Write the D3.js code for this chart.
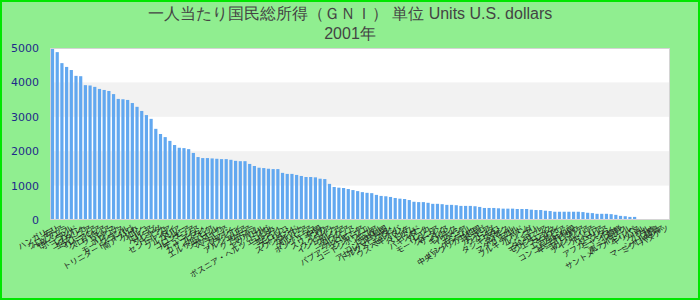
<!DOCTYPE html>
<html>
<head>
<meta charset="utf-8">
<script src="https://cdn.jsdelivr.net/npm/d3@7"></script>
<style>
  body { margin: 0; background: #90ee90; }
  svg { display: block; }
</style>
</head>
<body>
<div id="chart"></div>
<script>
// Country names (Japanese) in the order shown
const countries = [
  'ハンガリー', 'チリ', 'クロアチア', 'ベネズエラ', 'セーシェル', 'ポーランド', 'レバノン', 'コスタリカ',
  'エストニア', 'マレーシア', 'リトアニア', 'スロバキア', 'ラトビア', 'パナマ', 'ボツワナ', 'モーリシャス',
  'ブラジル', 'トリニダード・トバゴ', '南アフリカ', 'ガボン', 'トルコ', 'ロシア', 'ベリーズ', 'グレナダ',
  'ドミニカ', 'セントルシア', 'タイ', 'ブルガリア', 'ペルー', 'コロンビア', 'ルーマニア', 'チュニジア',
  'イラン', 'カザフスタン', 'ナミビア', 'エルサルバドル', 'ジャマイカ', 'マケドニア', 'ベラルーシ', 'フィジー',
  'パラグアイ', 'アルジェリア', 'サモア', 'グアテマラ', 'スリナム', 'エクアドル', 'トンガ', 'ボスニア・ヘルツェゴビナ',
  'ヨルダン', 'エジプト', 'モロッコ', 'フィリピン', 'スワジランド', 'ガイアナ', 'ボリビア', 'アルバニア',
  'ホンジュラス', '中国', 'スリランカ', 'シリア', 'ウクライナ', 'インドネシア', 'グルジア', 'ニカラグア',
  'アルメニア', 'カメルーン', 'パプアニューギニア', 'ジンバブエ', 'コートジボワール', 'ギニア', 'セネガル', 'コンゴ共和国',
  'アゼルバイジャン', 'トルクメニスタン', 'モルドバ', 'ウズベキスタン', 'ハイチ', 'ベトナム', 'インド', 'パキスタン',
  'ガーナ', 'レソト', 'モーリタニア', 'スーダン', 'ザンビア', 'ベナン', 'キルギス', 'イエメン',
  'ケニア', 'モンゴル', 'バングラデシュ', '中央アフリカ共和国', 'トーゴ', 'ガンビア', 'ウガンダ', 'コモロ',
  'タジキスタン', 'ラオス', 'ネパール', 'マダガスカル', 'チャド', 'ブルキナファソ', 'ルワンダ', 'マリ',
  'ニジェール', 'タンザニア', 'モザンビーク', 'シエラレオネ', 'マラウイ', 'エチオピア', 'ブルンジ', 'コンゴ民主共和国',
  'ギニアビサウ', 'エリトリア', 'カンボジア', 'ナイジェリア', 'アンゴラ', 'リベリア', 'ソマリア', 'アフガニスタン',
  'ミャンマー', '北朝鮮', 'イラク', '東ティモール', 'サントメ・プリンシペ', 'キリバス', 'ツバル', 'ナウル',
  'パラオ', 'マーシャル諸島', 'ミクロネシア', 'バヌアツ'
];

// GNI per capita, U.S. dollars (last few have no value)
const gni = [
  4970, 4880, 4560, 4450, 4360, 4190, 4180, 3920, 3910, 3870, 3810, 3780, 3750, 3660, 3520, 3510,
  3490, 3400, 3290, 3170, 3050, 2940, 2650, 2500, 2410, 2300, 2180, 2100, 2090, 2060, 1950, 1830,
  1800, 1800, 1790, 1780, 1770, 1770, 1750, 1720, 1710, 1710, 1630, 1570, 1520, 1510, 1490, 1480,
  1480, 1370, 1340, 1340, 1310, 1280, 1250, 1250, 1240, 1200, 1190, 1050, 960, 940, 930, 900,
  870, 840, 810, 790, 780, 730, 700, 690, 670, 640, 620, 610, 580, 530, 520, 520,
  500, 470, 470, 460, 440, 440, 430, 410, 410, 410, 400, 380, 350, 350, 350, 340,
  330, 330, 330, 320, 320, 320, 300, 290, 290, 270, 260, 240, 240, 240, 240, 240,
  240, 230, 210, 200, 180, 180, 180, 170, 150, 120, 110, 90, 90, null, null, null,
  null, null, null, null
];

const yTicks = [0, 1000, 2000, 3000, 4000, 5000];
const titleLines = ['一人当たり国民総所得（ＧＮＩ） 単位 Units U.S. dollars', '2001年'];

const W = 700, H = 300;
const margin = { top: 48, right: 30, bottom: 80, left: 50 };
const width = W - margin.left - margin.right;
const height = H - margin.top - margin.bottom;

const svg = d3.select('#chart').append('svg')
    .attr('width', W)
    .attr('height', H);

svg.append('rect')
    .attr('x', 1).attr('y', 1)
    .attr('width', W - 2).attr('height', H - 2)
    .attr('fill', '#90ee90')
    .attr('stroke', '#00e600')
    .attr('stroke-width', 2);

svg.selectAll('text.title')
    .data(titleLines)
    .enter()
    .append('text')
    .attr('class', 'title')
    .attr('x', W / 2)
    .attr('y', (d, i) => 19 + i * 20)
    .attr('text-anchor', 'middle')
    .style('font-family', '"Liberation Sans", Arial, sans-serif')
    .style('font-size', '16px')
    .attr('fill', '#444')
    .text(d => d);

const g = svg.append('g')
    .attr('transform', `translate(${margin.left},${margin.top})`);

const x = d3.scaleBand()
    .domain(countries)
    .range([0, width])
    .paddingInner(0.32)
    .paddingOuter(0.2);

const y = d3.scaleLinear()
    .domain([0, 5000])
    .range([height, 0]);

g.append('rect')
    .attr('width', width)
    .attr('height', height)
    .attr('fill', '#fff');

// alternating bands
g.selectAll('rect.band')
    .data(yTicks.slice(0, -1).filter((d, i) => i % 2 === 1))
    .enter()
    .append('rect')
    .attr('class', 'band')
    .attr('x', 0)
    .attr('width', width)
    .attr('y', d => y(d + 1000))
    .attr('height', d => y(d) - y(d + 1000))
    .attr('fill', '#f2f2f2');

g.selectAll('rect.bar')
    .data(countries.map((c, i) => ({ name: c, value: gni[i] })).filter(d => d.value != null))
    .enter()
    .append('rect')
    .attr('class', 'bar')
    .attr('x', d => x(d.name))
    .attr('width', x.bandwidth())
    .attr('y', d => y(d.value))
    .attr('height', d => height - y(d.value))
    .attr('fill', '#62a8f0');

g.append('rect')
    .attr('x', 0.5).attr('y', 0.5)
    .attr('width', width - 1)
    .attr('height', height - 1)
    .attr('fill', 'none')
    .attr('stroke', '#d4d4d4');

const yAxis = g.append('g')
    .call(d3.axisLeft(y).tickValues(yTicks).tickFormat(d3.format('d')).tickSize(0).tickPadding(11));
yAxis.select('.domain').remove();
yAxis.selectAll('text')
    .style('font-family', '"DejaVu Sans", sans-serif')
    .style('font-size', '11px')
    .attr('fill', '#1f2a8a');

const xAxis = g.append('g')
    .attr('transform', `translate(0,${height})`)
    .call(d3.axisBottom(x).tickSize(0).tickPadding(0));
xAxis.select('.domain').remove();
xAxis.selectAll('text')
    .style('font-family', '"Noto Sans CJK JP", sans-serif')
    .style('font-size', '8px')
    .attr('fill', '#222')
    .attr('text-anchor', 'end')
    .attr('dy', '0')
    .attr('transform', 'translate(2,10) rotate(-30)');
</script>
</body>
</html>
